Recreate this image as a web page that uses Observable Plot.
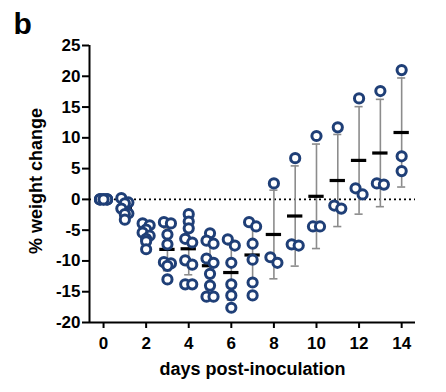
<!DOCTYPE html>
<html><head><meta charset="utf-8">
<script src="https://cdn.jsdelivr.net/npm/d3@7"></script>
<script src="https://cdn.jsdelivr.net/npm/@observablehq/plot@0.6"></script>
<style>
html,body{margin:0;padding:0;background:#fff;}
#chart{width:446px;height:392px;}
</style></head><body><div id="chart"></div>
<script>
const days = [0,1,2,3,4,5,6,7,8,9,10,11,12,13,14];
const weightByDay = [
  [0,0,0,0,0,0,0,0,0],
  [0.2,-0.5,-0.65,-1.5,-2.3,-2.4,-3.3],
  [-3.9,-4.2,-4.9,-5.4,-5.9,-6.4,-6.8,-8.1],
  [-3.7,-3.9,-5.7,-7.3,-10.2,-10.4,-10.8,-13.0],
  [-2.4,-3.6,-4.7,-6.4,-7.0,-9.9,-10.6,-13.8,-13.8],
  [-5.5,-6.7,-7.2,-9.6,-10.3,-12.1,-14.0,-15.8,-15.8],
  [-6.5,-7.5,-10.3,-13.8,-15.6,-17.6],
  [-3.7,-4.4,-7.2,-9.8,-13.5,-15.6],
  [2.6,-9.4,-10.3],
  [6.7,-7.3,-7.5],
  [10.3,-4.4,-4.4],
  [11.7,-1.0,-1.5],
  [16.4,1.8,0.8],
  [17.6,2.6,2.4],
  [21.0,7.0,4.6]
];
const xTicks = [0,2,4,6,8,10,12,14];
const yTicks = [-20,-15,-10,-5,0,5,10,15,20,25];
const xDomain = [-0.66, 14.65];
const yDomain = [-20, 25];

// scatter layout: close values side by side
const pts = [];
days.forEach((d, i) => {
  const vals = weightByDay[i].slice().sort((a, b) => b - a);
  const rows = [];
  let row = null;
  vals.forEach(v => {
    if (row && Math.abs(v - row[0]) < 1.1) row.push(v);
    else { row = [v]; rows.push(row); }
  });
  rows.forEach(r => r.forEach((v, j) => {
    const off = r.length === 1 ? 0 : [-1, 1, 0][j % 3] * 0.165;
    pts.push({day: d, x: d + off, value: v});
  }));
});
const stats = days.map((d, i) => ({
  day: d,
  mean: d3.mean(weightByDay[i]),
  sd: d3.deviation(weightByDay[i]) || 0
}));
const withSd = stats.filter(s => s.sd > 0.05);

const font = '"Liberation Sans", Arial, Helvetica, sans-serif';
const chart = Plot.plot({
  width: 446, height: 392,
  marginLeft: 89, marginRight: 31, marginTop: 45, marginBottom: 70,
  style: {fontFamily: font, fontWeight: "bold", fontSize: "17px", color: "#000", background: "#fff", overflow: "visible"},
  x: {domain: xDomain},
  y: {domain: yDomain},
  marks: [
    Plot.ruleY([0], {stroke: "#000", strokeWidth: 1.6, strokeDasharray: "2,3"}),
    Plot.ruleX(withSd, {x: "day", y1: s => s.mean - s.sd, y2: s => s.mean + s.sd, stroke: "#8c8c8c", strokeWidth: 1.6}),
    Plot.ruleY(withSd, {y: s => s.mean + s.sd, x1: s => s.day - 0.19, x2: s => s.day + 0.19, stroke: "#8c8c8c", strokeWidth: 1.6}),
    Plot.ruleY(withSd, {y: s => s.mean - s.sd, x1: s => s.day - 0.19, x2: s => s.day + 0.19, stroke: "#8c8c8c", strokeWidth: 1.6}),
    Plot.ruleY(stats, {y: "mean", x1: s => s.day - 0.36, x2: s => s.day + 0.36, stroke: "#000", strokeWidth: 3.2}),
    Plot.dot(pts, {x: "x", y: "value", r: 4.6, stroke: "#1f3f77", strokeWidth: 3, fill: "white"}),
    Plot.axisX({ticks: xTicks, tickSize: 6, tickPadding: 8, tickFormat: d => String(d), label: null, strokeWidth: 2}),
    Plot.axisY({ticks: yTicks, tickSize: 7, tickPadding: 2, tickFormat: d => String(d), label: null, strokeWidth: 2}),
    Plot.ruleX([xDomain[0]], {y1: yDomain[0], y2: yDomain[1], stroke: "#000", strokeWidth: 2}),
    Plot.ruleY([yDomain[0]], {stroke: "#000", strokeWidth: 2}),
    Plot.text(["% weight change"], {frameAnchor: "left", rotate: -90, dx: -53, dy: -3, textAnchor: "middle", lineAnchor: "middle", fontSize: 18, fontWeight: "bold"}),
    Plot.text(["days post-inoculation"], {frameAnchor: "bottom", dy: 47, lineAnchor: "middle", fontSize: 18, fontWeight: "bold"}),
    Plot.text(["b"], {frameAnchor: "top-left", dx: -76, dy: -33, textAnchor: "start", lineAnchor: "top", fontSize: 30, fontWeight: "bold"})
  ]
});
document.getElementById("chart").appendChild(chart);
</script>
</body></html>
